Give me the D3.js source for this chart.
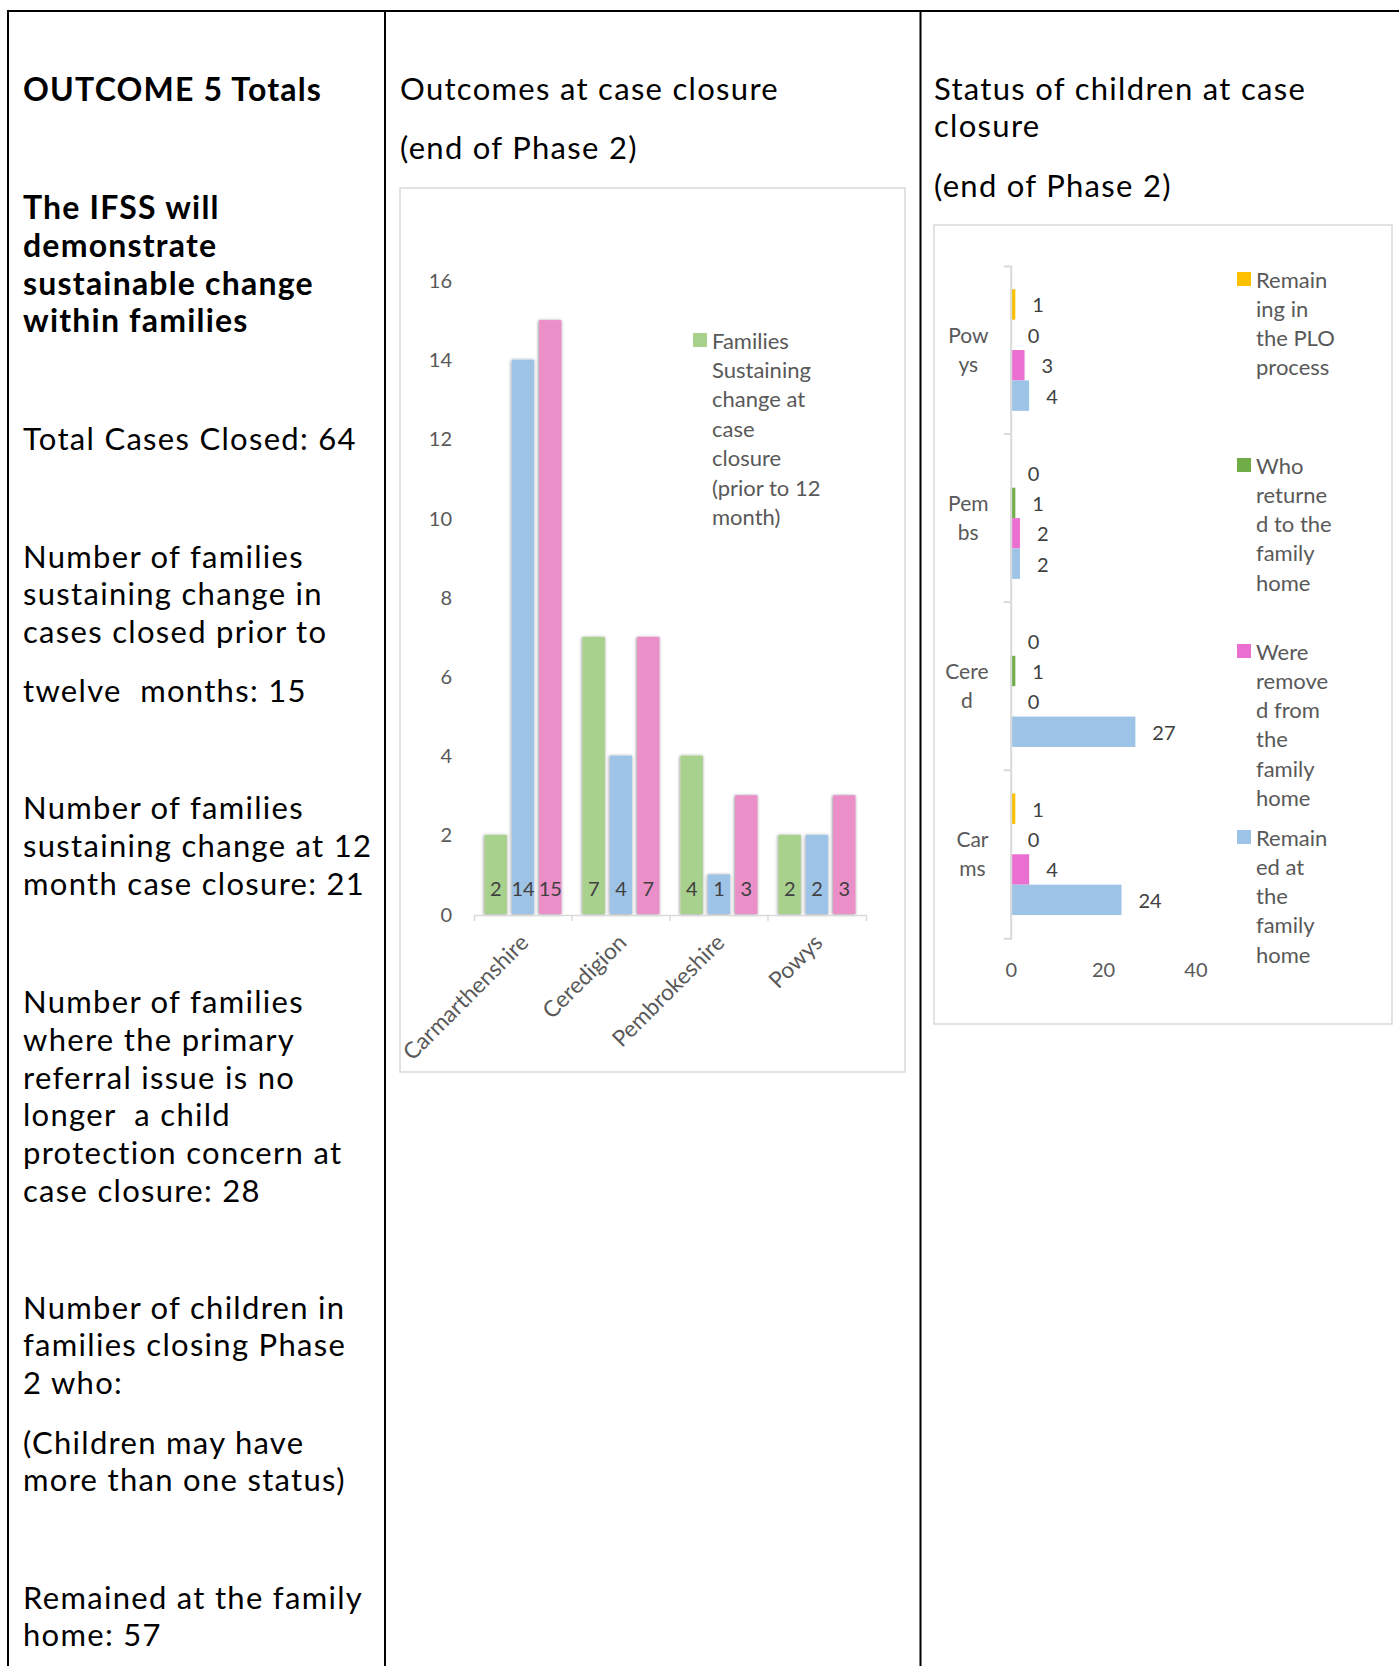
<!DOCTYPE html>
<html>
<head>
<meta charset="utf-8">
<script src="https://cdn.jsdelivr.net/npm/d3@7"></script>
<style>
  html, body { margin: 0; padding: 0; background: #fff; }
  svg { display: block; }
  .prose { font-family: Lato, "Open Sans", sans-serif; font-size: 31px; fill: #000; letter-spacing: 1.3px; white-space: pre; }
  .prose.bold { font-weight: 700; font-size: 32px; letter-spacing: 1.2px; }
  .chart text { font-family: Lato, "Open Sans", sans-serif; fill: #595959; }
</style>
</head>
<body>
<svg id="page" width="1399" height="1666"></svg>
<script>
// ---- Summary column text: [line, baseline, bold] ----
const summaryLines = [
  ["OUTCOME 5 Totals", 100.5, true],
  ["The IFSS will", 218.5, true],
  ["demonstrate", 256.5, true],
  ["sustainable change", 294.5, true],
  ["within families", 331.5, true],
  ["Total Cases Closed: 64", 449.5, false],
  ["Number of families", 567.5, false],
  ["sustaining change in", 605, false],
  ["cases closed prior to", 642.5, false],
  ["twelve  months: 15", 701.5, false],
  ["Number of families", 818.5, false],
  ["sustaining change at 12", 856.5, false],
  ["month case closure: 21", 894.5, false],
  ["Number of families", 1012.5, false],
  ["where the primary", 1050.5, false],
  ["referral issue is no", 1088.5, false],
  ["longer  a child", 1125.5, false],
  ["protection concern at", 1163.5, false],
  ["case closure: 28", 1201.5, false],
  ["Number of children in", 1318.5, false],
  ["families closing Phase", 1355.5, false],
  ["2 who:", 1393.5, false],
  ["(Children may have", 1453.5, false],
  ["more than one status)", 1490.5, false],
  ["Remained at the family", 1608.5, false],
  ["home: 57", 1645.5, false]
];
const outcomeTitle = ["Outcomes at case closure", "(end of Phase 2)"];
const statusTitle = ["Status of children at case", "closure", "(end of Phase 2)"];

// ---- Outcomes at case closure, by local authority ----
const districts = ["Carmarthenshire", "Ceredigion", "Pembrokeshire", "Powys"];
const sustainedBefore12 = [2, 7, 4, 2];
const sustainedAt12 = [14, 4, 1, 2];
const noLongerCPConcern = [15, 7, 3, 3];
const outcomeTicks = [0, 2, 4, 6, 8, 10, 12, 14, 16];
const outcomeLegendLines = ["Families", "Sustaining", "change at", "case", "closure", "(prior to 12", "month)"];

// ---- Status of children at case closure ----
const areas = ["Powys", "Pembs", "Cered", "Carms"];
const areaLabelLines = [["Pow", "ys"], ["Pem", "bs"], ["Cere", "d"], ["Car", "ms"]];
const inPLOProcess = [1, 0, 0, 1];
const returnedHome = [0, 1, 1, 0];
const removedFromHome = [3, 2, 0, 4];
const remainedAtHome = [4, 2, 27, 24];
const statusTicks = [0, 20, 40];
const statusLegendLines = [
  ["Remain", "ing in", "the PLO", "process"],
  ["Who", "returne", "d to the", "family", "home"],
  ["Were", "remove", "d from", "the", "family", "home"],
  ["Remain", "ed at", "the", "family", "home"]
];

// ---- drawing ----
const svg = d3.select("#page");
svg.append("rect").attr("width", 1399).attr("height", 1666).attr("fill", "#fff");

const defs = svg.append("defs");
const shadow = defs.append("filter").attr("id", "barShadow")
  .attr("x", "-40%").attr("y", "-5%").attr("width", "180%").attr("height", "110%");
shadow.append("feDropShadow").attr("dx", -0.5).attr("dy", 0.5)
  .attr("stdDeviation", 1.6).attr("flood-color", "#000").attr("flood-opacity", 0.5);

// table rules
const rules = svg.append("g").attr("stroke", "#000").attr("stroke-width", 2);
rules.append("line").attr("x1", 7).attr("x2", 1399).attr("y1", 11).attr("y2", 11);
[8, 385, 920.5].forEach(x =>
  rules.append("line").attr("x1", x).attr("x2", x).attr("y1", 10).attr("y2", 1666));

// summary column
svg.append("g").selectAll("text").data(summaryLines).join("text")
  .attr("class", d => d[2] ? "prose bold" : "prose")
  .attr("x", 23).attr("y", d => d[1]).text(d => d[0]);

// column headings
svg.append("g").selectAll("text").data(outcomeTitle).join("text")
  .attr("class", "prose").attr("x", 400).attr("y", (d, i) => [100, 159][i]).text(d => d);
svg.append("g").selectAll("text").data(statusTitle).join("text")
  .attr("class", "prose").attr("x", 934).attr("y", (d, i) => [100, 137, 197][i]).text(d => d);

// ================= Outcomes chart =================
const c1 = svg.append("g").attr("class", "chart");
c1.append("rect").attr("x", 400).attr("y", 188).attr("width", 505).attr("height", 884)
  .attr("fill", "#fff").attr("stroke", "#d9d9d9").attr("stroke-width", 1.5);

const outcomeKeys = ["before12", "at12", "noCP"];
const outcomeSeries = { before12: sustainedBefore12, at12: sustainedAt12, noCP: noLongerCPConcern };
const outcomeColor = { before12: "#a9d18e", at12: "#9dc3e6", noCP: "#ea8fc8" };

const x0 = d3.scaleBand().domain(districts).range([474, 866]);
const x1 = d3.scaleBand().domain(outcomeKeys)
  .range([10.5, x0.bandwidth() - 10.5]).paddingInner(0.18);
const y = d3.scaleLinear().domain([0, 16]).range([914, 280.5]);

const groups = c1.append("g").selectAll("g").data(districts).join("g")
  .attr("transform", d => `translate(${x0(d)},0)`);
const cells = groups.selectAll("g").data((d, i) => outcomeKeys.map(k => ({ k, v: outcomeSeries[k][i] })))
  .join("g");
cells.append("rect")
  .attr("x", d => x1(d.k)).attr("width", x1.bandwidth())
  .attr("y", d => y(d.v)).attr("height", d => y(0) - y(d.v))
  .attr("fill", d => outcomeColor[d.k]).attr("filter", "url(#barShadow)");
cells.append("text")
  .attr("x", d => x1(d.k) + x1.bandwidth() / 2).attr("y", y(0) - 26)
  .attr("text-anchor", "middle").attr("dominant-baseline", "central")
  .attr("font-size", 20).style("fill", "#404040").text(d => d.v);

// value axis (labels only)
const yAxis = c1.append("g").attr("transform", "translate(460,0)")
  .call(d3.axisLeft(y).tickValues(outcomeTicks).tickSize(0).tickPadding(8));
yAxis.select(".domain").remove();
yAxis.attr("font-family", null).attr("font-size", null);
yAxis.selectAll("text").attr("font-size", 20).attr("dy", "0.35em");

// category axis
const xAxis = c1.append("g").attr("transform", `translate(0,${y(0) + 1})`)
  .call(d3.axisBottom(x0).tickSize(0).tickSizeOuter(6).tickFormat(""));
xAxis.select(".domain").attr("stroke", "#d9d9d9").attr("stroke-width", 1.5);
xAxis.selectAll(".tick").remove();
xAxis.selectAll("line.bound").data(districts.slice(1)).join("line").attr("class", "bound")
  .attr("x1", d => x0(d)).attr("x2", d => x0(d)).attr("y1", 0).attr("y2", 6)
  .attr("stroke", "#d9d9d9").attr("stroke-width", 1.5);
c1.append("g").selectAll("text").data(districts).join("text")
  .attr("transform", d => `translate(${x0(d) + x0.bandwidth() / 2 + 1},${y(0) + 24}) rotate(-45)`)
  .attr("text-anchor", "end").attr("dominant-baseline", "central")
  .attr("font-size", 22.7).text(d => d);

// legend
const lg1 = c1.append("g");
lg1.append("rect").attr("x", 693).attr("y", 333).attr("width", 14).attr("height", 14)
  .attr("fill", outcomeColor.before12);
lg1.selectAll("text").data(outcomeLegendLines).join("text")
  .attr("x", 712).attr("y", (d, i) => 340 + i * 29.4)
  .attr("dominant-baseline", "central").attr("font-size", 22).text(d => d);

// ================= Status chart =================
const c2 = svg.append("g").attr("class", "chart");
c2.append("rect").attr("x", 934).attr("y", 225).attr("width", 458).attr("height", 799)
  .attr("fill", "#fff").attr("stroke", "#d9d9d9").attr("stroke-width", 1.5);

const statusKeys = ["plo", "returned", "removed", "remained"];
const statusSeries = { plo: inPLOProcess, returned: returnedHome, removed: removedFromHome, remained: remainedAtHome };
const statusColor = { plo: "#ffc000", returned: "#70ad47", removed: "#eb6fd0", remained: "#9dc3e6" };

const y0 = d3.scaleBand().domain(areas).range([266, 938.3]);
const y1 = d3.scaleBand().domain(statusKeys).range([0, y0.bandwidth()]).paddingOuter(0.765);
const xs = d3.scaleLinear().domain([0, 40]).range([1010.7, 1195.4]);

const rows = c2.append("g").selectAll("g").data(areas).join("g")
  .attr("transform", d => `translate(0,${y0(d)})`);
const rowCells = rows.selectAll("g").data((d, i) => statusKeys.map(k => ({ k, v: statusSeries[k][i] })))
  .join("g");
rowCells.append("rect")
  .attr("x", xs(0)).attr("y", d => y1(d.k))
  .attr("width", d => xs(d.v) - xs(0)).attr("height", y1.bandwidth())
  .attr("fill", d => statusColor[d.k]);
rowCells.append("text")
  .attr("x", d => xs(d.v) + 17).attr("y", d => y1(d.k) + y1.bandwidth() / 2)
  .attr("dominant-baseline", "central").attr("font-size", 20).style("fill", "#404040")
  .text(d => d.v);

// category axis (vertical)
const yAxis2 = c2.append("g").attr("transform", `translate(${xs(0)},0)`)
  .call(d3.axisLeft(y0).tickSize(0).tickSizeOuter(7).tickFormat(""));
yAxis2.select(".domain").attr("stroke", "#d9d9d9").attr("stroke-width", 2);
yAxis2.selectAll(".tick").remove();
yAxis2.selectAll("line.bound").data(areas.slice(1)).join("line").attr("class", "bound")
  .attr("x1", -7).attr("x2", 0).attr("y1", d => y0(d)).attr("y2", d => y0(d))
  .attr("stroke", "#d9d9d9").attr("stroke-width", 2);

// wrapped category labels, block right-aligned against the axis
const labelRight = 988.5;
areas.forEach((a, i) => {
  const lines = areaLabelLines[i];
  const cy = y0(a) + y0.bandwidth() / 2;
  const g = c2.append("g");
  const t = g.selectAll("text").data(lines).join("text")
    .attr("y", (d, j) => cy + (j - (lines.length - 1) / 2) * 29.4 - 1)
    .attr("dominant-baseline", "central").attr("text-anchor", "middle")
    .attr("font-size", 21).text(d => d);
  let w = 0;
  t.each(function () { w = Math.max(w, this.getComputedTextLength()); });
  t.attr("x", labelRight - w / 2);
});

// value axis labels
const xAxis2 = c2.append("g").attr("transform", `translate(0,${y0.range()[1]})`)
  .call(d3.axisBottom(xs).tickValues(statusTicks).tickSize(0).tickPadding(25));
xAxis2.select(".domain").remove();
xAxis2.attr("font-family", null).attr("font-size", null);
xAxis2.selectAll("text").attr("font-size", 20);

// legend
const lg2 = c2.append("g").selectAll("g").data(statusKeys).join("g")
  .attr("transform", (d, i) => `translate(1237,${279 + i * 186})`);
lg2.append("rect").attr("x", 0).attr("y", -7).attr("width", 14).attr("height", 14)
  .attr("fill", d => statusColor[d]);
lg2.selectAll("text").data((d, i) => statusLegendLines[i]).join("text")
  .attr("x", 19).attr("y", (d, j) => j * 29.3)
  .attr("dominant-baseline", "central").attr("font-size", 22).text(d => d);
</script>
</body>
</html>
